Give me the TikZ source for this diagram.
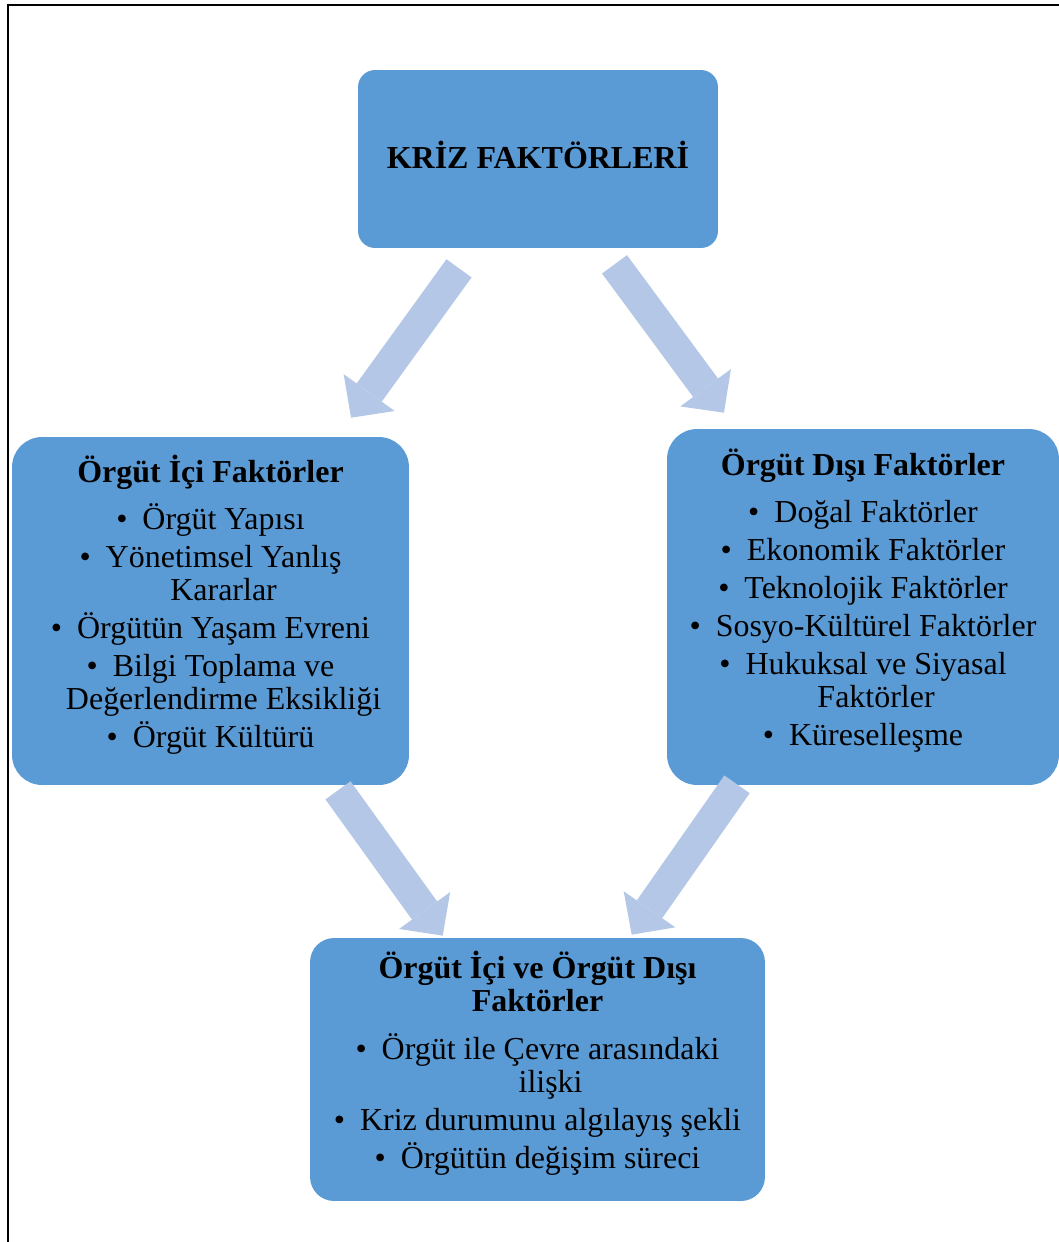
\documentclass[tikz,border=0pt]{standalone}
\usepackage{fontspec}
\setmainfont{Liberation Serif}
\usepackage{xcolor}
\usepackage{tikz}
\usetikzlibrary{arrows.meta,positioning,calc}

\definecolor{boxblue}{HTML}{5B9BD5}
\definecolor{arrowblue}{HTML}{B4C7E7}
\newcommand{\bitem}{\textbullet\hspace{0.3cm}}
\newcommand{\wrapshift}{\hphantom{\bitem}}
\newcommand{\bottomlift}{\\[-0.28cm]\mbox{}}

\begin{document}
\begin{tikzpicture}[x=0.02cm, y=-0.02cm,
  box/.style={fill=boxblue, inner sep=0pt, align=center,
              font=\fontsize{18.2}{18.8}\selectfont},
  arr/.style={draw=arrowblue, line width=0.62cm,
              -{Triangle[length=0.62cm, width=1.26cm, line width=0pt]}}
]
\useasboundingbox (0,0) rectangle (1059,1242);
% page frame
\draw[line width=1pt] (8,1242) -- (8,5) -- (1059,5);

\node[box, rounded corners=0.34cm, minimum width=7.2cm, minimum height=3.56cm]
  (kriz) at (538,159) {\textbf{KRİZ FAKTÖRLERİ}\\[-0.5cm]\mbox{}};
\node[box, rounded corners=0.6cm, minimum width=7.94cm, minimum height=6.96cm]
  (ic) at (210.5,611) {\textbf{Örgüt İçi Faktörler}\\[0.28cm]
  \bitem Örgüt Yapısı\\[0.1cm]
  \bitem Yönetimsel Yanlış\\
  \wrapshift Kararlar\\[0.1cm]
  \bitem Örgütün Yaşam Evreni\\[0.1cm]
  \bitem Bilgi Toplama ve\\
  \wrapshift Değerlendirme Eksikliği\\[0.1cm]
  \bitem Örgüt Kültürü\bottomlift};
\node[box, rounded corners=0.6cm, minimum width=7.84cm, minimum height=7.12cm]
  (dis) at (863,607) {\textbf{Örgüt Dışı Faktörler}\\[0.28cm]
  \bitem Doğal Faktörler\\[0.1cm]
  \bitem Ekonomik Faktörler\\[0.1cm]
  \bitem Teknolojik Faktörler\\[0.1cm]
  \bitem Sosyo-Kültürel Faktörler\\[0.1cm]
  \bitem Hukuksal ve Siyasal\\
  \wrapshift Faktörler\\[0.1cm]
  \bitem Küreselleşme\bottomlift};
\node[box, rounded corners=0.48cm, minimum width=9.1cm, minimum height=5.26cm]
  (ortak) at (537.5,1069.5) {\textbf{Örgüt İçi ve Örgüt Dışı}\\
  \textbf{Faktörler}\\[0.3cm]
  \bitem Örgüt ile Çevre arasındaki\\
  \wrapshift ilişki\\[0.1cm]
  \bitem Kriz durumunu algılayış şekli\\[0.1cm]
  \bitem Örgütün değişim süreci\bottomlift};

% block arrows
\draw[arr] ($(kriz.south)+(-79,20)$) -- ($(ic.north)+(140.5,-19)$);
\draw[arr] ($(kriz.south)+(76.5,16)$) -- ($(dis.north)+(-139,-16)$);
\draw[arr] ($(ic.south)+(127.5,5)$) -- ($(ortak.north)+(-94.8,-2)$);
\draw[arr] ($(dis.south)+(-126,-1)$) -- ($(ortak.north)+(94.2,-3)$);
\end{tikzpicture}
\end{document}
